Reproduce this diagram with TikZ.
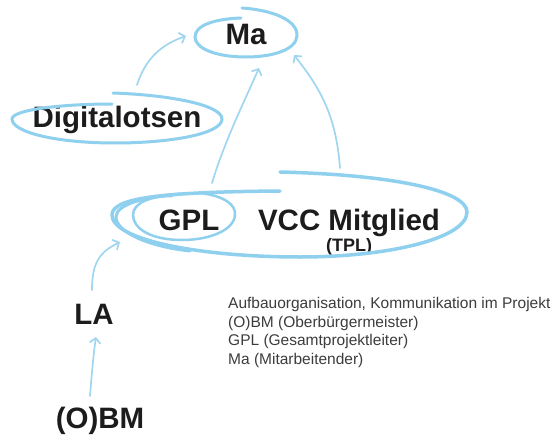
\documentclass[tikz,border=0pt]{standalone}
\usepackage{fontspec}
\setmainfont{Liberation Sans}
\usetikzlibrary{arrows.meta}
\definecolor{loopblue}{RGB}{142,208,238}
\definecolor{arrowblue}{RGB}{160,214,240}
\definecolor{labelink}{RGB}{28,28,28}
\definecolor{noteink}{RGB}{60,60,60}
\tikzset{
  lbl/.style={font=\fontsize{29.5}{32}\selectfont\bfseries, text=labelink, inner sep=0pt, anchor=base},
  sublbl/.style={font=\fontsize{18}{20}\selectfont\bfseries, text=labelink, inner sep=0pt, anchor=base},
  note/.style={font=\fontsize{15.5}{18.5}\selectfont, text=noteink, inner sep=0pt, anchor=base west},
  loopline/.style={draw=loopblue, line width=3pt, line cap=round},
  conn/.style={draw=arrowblue, line width=1.7pt, line cap=round, -{Straight Barb[length=5pt,width=11pt,line width=1.7pt]}},
}
\begin{document}
\begin{tikzpicture}[x=1pt,y=-1pt]
\useasboundingbox (0,0) rectangle (560,439);
% labels
\node[lbl] (ma) at (246,45) {Ma};
\node[lbl] (dig) at (117,127) {Digitalotsen};
\node[lbl] (gpl) at (189,230) {GPL};
\node[lbl] (vcc) at (349,230) {VCC Mitglied};
\node[sublbl] (tpl) at (349,251) {(TPL)};
\node[lbl] (la) at (94,324) {LA};
\node[lbl] (obm) at (100,428) {(O)BM};
\node[note] (n1) at (228,308) {Aufbauorganisation, Kommunikation im Projekt};
\node[note] (n2) at (228,327) {(O)BM (Oberbürgermeister)};
\node[note] (n3) at (228,345.5) {GPL (Gesamtprojektleiter)};
\node[note] (n4) at (228,364) {Ma (Mitarbeitender)};
% hand drawn loops
\draw[loopline] (242,8) .. controls (272,10) and (298,20) .. (297,36)
  .. controls (296,50) and (272,57) .. (246,57)
  .. controls (215,57) and (195,48) .. (195,37)
  .. controls (195,25) and (215,19) .. (241,18);
\draw[loopline] (113,93) .. controls (170,95) and (222,105) .. (222,119)
  .. controls (222,134) and (170,143) .. (115,143)
  .. controls (55,143) and (12,132) .. (12,119)
  .. controls (12,110) and (60,104) .. (112,104);
\draw[loopline, line width=2.5pt] (200,193) .. controls (225,196) and (236,205) .. (235,215)
  .. controls (234,230) and (210,240) .. (182,240)
  .. controls (150,240) and (133,228) .. (133,215)
  .. controls (133,203) and (150,196) .. (172,196);
\draw[loopline, line width=3.5pt] (280,172) .. controls (400,175) and (467,192) .. (467,212)
  .. controls (467,238) and (390,257) .. (300,257)
  .. controls (200,257) and (112,240) .. (112,215)
  .. controls (112,198) and (160,192) .. (280,191);
\draw[loopline, line width=3pt] (190,251) .. controls (145,246) and (116,231) .. (116,217)
  .. controls (116,204) and (145,197) .. (180,194);
% connectors
\coordinate (digout) at (137,85);
\coordinate (main) at (186,36);
\coordinate (gplout) at (212,183);
\coordinate (mabot) at (259,68);
\coordinate (vccout) at (340,168);
\coordinate (mabr) at (294,55);
\coordinate (laout) at (92,290);
\coordinate (gplin) at (120,242);
\coordinate (obmout) at (90,396);
\coordinate (lain) at (96,337);
\draw[conn] (digout) .. controls (145,60) and (160,45) .. (main);
\draw[conn] (gplout) .. controls (225,140) and (245,100) .. (mabot);
\draw[conn] (vccout) .. controls (336,115) and (320,88) .. (mabr);
\draw[conn] (laout) .. controls (92,262) and (100,252) .. (gplin);
\draw[conn] (obmout) .. controls (92,370) and (94,350) .. (lain);
\end{tikzpicture}
\end{document}
